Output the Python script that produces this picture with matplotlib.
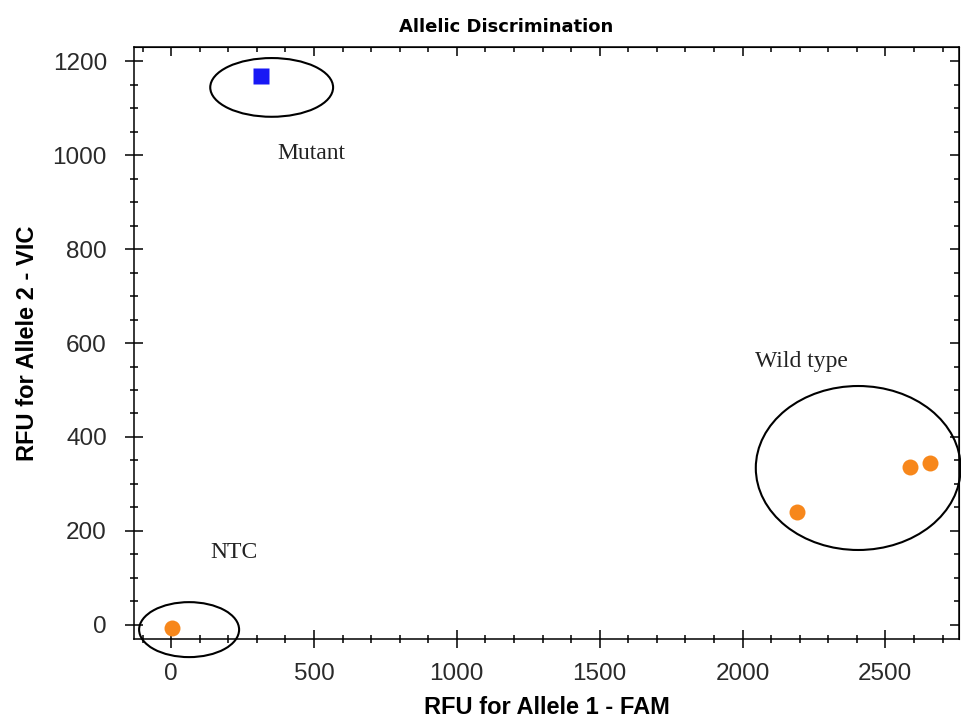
"""
Allelic discrimination plot (FAM vs VIC RFU) with genotype clusters circled.
"""
import matplotlib
matplotlib.use("Agg")
import matplotlib.pyplot as plt
from matplotlib.patches import Ellipse
from matplotlib.ticker import MultipleLocator

ORANGE, BLUE = "#F7871B", "#1818F5"
SANS, SERIF = "Liberation Sans", "Liberation Serif"

# --- data ---
wild_fam = [2190, 2587, 2657]
wild_vic = [240, 336, 345]
ntc_fam = [3]
ntc_vic = [-6]
mut_fam = [315]
mut_vic = [1168]

# cluster rings: (centre x, centre y, width, height)
rings = {
    "Mutant": (352, 1144, 430, 125),
    "NTC": (63, -10, 350, 117),
    "Wild type": (2405, 334, 717, 349),
}
# where the cluster names sit
names = {"Mutant": (371, 1004), "NTC": (136, 155), "Wild type": (2044, 560)}

fig = plt.figure(figsize=(9.61, 7.21), dpi=100)
ax = fig.add_axes([0.1394, 0.1137, 0.8586, 0.8211])

ax.plot(wild_fam, wild_vic, "o", color=ORANGE, ms=11.5, mec="none")
ax.plot(ntc_fam, ntc_vic, "o", color=ORANGE, ms=11.5, mec="none", clip_on=False)
ax.plot(mut_fam, mut_vic, "s", color=BLUE, ms=12, mec="none")

for key, (cx, cy, w, h) in rings.items():
    ax.add_patch(Ellipse((cx, cy), w, h, fill=False, ec="black", lw=1.5, clip_on=False))
    tx, ty = names[key]
    ax.text(tx, ty, key, family=SERIF, fontsize=17, color="#222222", va="center")

ax.set_xlim(-130, 2758)
ax.set_ylim(-30, 1230)

def ticks(axis, major, minor):
    axis.set_major_locator(MultipleLocator(major))
    axis.set_minor_locator(MultipleLocator(minor))

ticks(ax.xaxis, 500, 100); ticks(ax.yaxis, 200, 50)

for s in ax.spines.values():
    s.set_linewidth(1.1)
ax.tick_params(which="major", direction="inout", length=13, width=1.1,
               labelsize=17.5, labelcolor="#2a2a2a")
ax.tick_params(which="minor", direction="inout", length=6, width=1.1)
ax.tick_params(axis="x", which="major", pad=11)
ax.tick_params(axis="y", which="major", pad=13)
for lab in ax.get_xticklabels() + ax.get_yticklabels():
    lab.set_family(SANS)

# top and right edges carry inward ticks only
top = ax.secondary_xaxis("top")
right = ax.secondary_yaxis("right")
ticks(top.xaxis, 500, 100); ticks(right.yaxis, 200, 50)
for sec in (top, right):
    sec.tick_params(which="major", direction="in", length=6.5, width=1.1, labelsize=0)
    sec.tick_params(which="minor", direction="in", length=3.5, width=1.1)
    sec.set_xticklabels([]) if sec is top else sec.set_yticklabels([])

# title sits left of the axes centre in the original
ax.set_title("Allelic Discrimination", family="DejaVu Sans", fontweight="bold",
             fontsize=13, x=0.451, pad=11)
ax.set_xlabel("RFU for Allele 1 - FAM", family=SANS, fontweight="bold", fontsize=17,
              labelpad=8)
ax.set_ylabel("RFU for Allele 2 - VIC", family=SANS, fontweight="bold", fontsize=17,
              labelpad=10)

fig.savefig("out.png", dpi=100)
